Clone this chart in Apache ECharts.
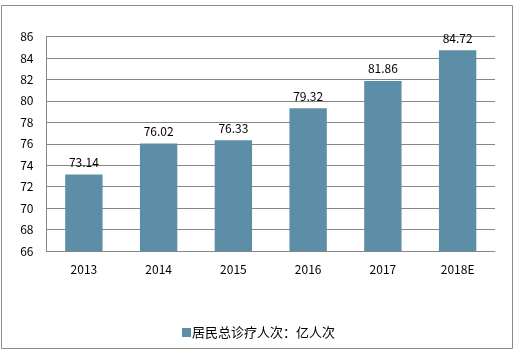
<!DOCTYPE html>
<html><head><meta charset="utf-8">
<script src="https://cdn.jsdelivr.net/npm/echarts@6/dist/echarts.min.js"></script>
<style>html,body{margin:0;padding:0;background:#fff;}#c{width:520px;height:355px;}</style>
</head><body><div id="c"></div>
<script>
const categories = ['2013','2014','2015','2016','2017','2018E'];
const values = [73.14, 76.02, 76.33, 79.32, 81.86, 84.72];
const seriesName = '居民总诊疗人次：亿人次';
const yMin = 66, yMax = 86, yStep = 2;

const chart = echarts.init(document.getElementById('c'), null, {renderer:'canvas'});
const font = '"Noto Sans CJK SC", "DejaVu Sans", sans-serif';
chart.setOption({
  animation:false,
  backgroundColor:'#fff',
  graphic:[{type:'rect', shape:{x:1.5,y:5.5,width:511,height:343}, style:{fill:'none', stroke:'#8c8c8c', lineWidth:1}, silent:true}],
  grid:{left:46.5, top:36.5, right:25, bottom:104},
  legend:{data:[seriesName], left:177, top:321, itemWidth:9, itemHeight:9, itemGap:0,
    icon:'rect', textStyle:{fontFamily:font, fontSize:13, color:'#000', padding:[0,0,0,-4]}},
  xAxis:{type:'category', data:categories,
    axisLine:{lineStyle:{color:'#868686'}}, axisTick:{show:false},
    axisLabel:{color:'#000', fontSize:12, fontFamily:font, margin:12}},
  yAxis:{type:'value', min:yMin, max:yMax, interval:yStep,
    axisLine:{show:true, lineStyle:{color:'#868686'}}, axisTick:{show:false},
    splitLine:{lineStyle:{color:'#868686'}},
    axisLabel:{color:'#000', fontSize:12, fontFamily:font, margin:13}},
  series:[{name:seriesName, type:'bar', data:values, barWidth:'50%',
    itemStyle:{color:'#5C8FA7'},
    label:{show:true, position:'top', distance:6, color:'#000', fontSize:12, fontFamily:font,
      formatter:p=>p.value.toFixed(2)}}]
});
</script></body></html>
